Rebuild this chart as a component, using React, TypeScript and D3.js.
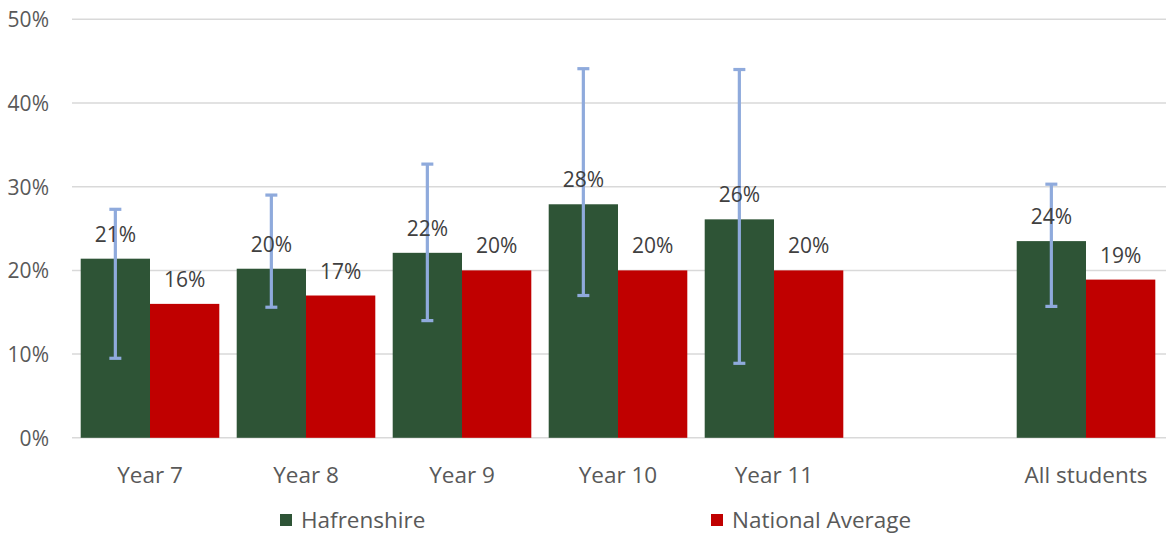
import React from "react";
import * as d3 from "d3";

const categories = ["Year 7", "Year 8", "Year 9", "Year 10", "Year 11", "", "All students"];
const hafrenshire: (number | null)[] = [21.4, 20.2, 22.1, 27.9, 26.1, null, 23.5];
const national: (number | null)[] = [16, 17, 20, 20, 20, null, 18.9];
const errLow: (number | null)[] = [9.5, 15.6, 14.0, 17.0, 8.9, null, 15.7];
const errHigh: (number | null)[] = [27.3, 29.0, 32.7, 44.1, 44.0, null, 30.3];
const yTicks = [0, 10, 20, 30, 40, 50];
const seriesNames = ["Hafrenshire", "National Average"];
const seriesColors = ["#2e5436", "#c00000"];

const W = 1168;
const H = 534;
const FONT = "'Open Sans', sans-serif";

export default function App() {
  const x0 = d3.scaleBand<string>().domain(categories.map((c, i) => i + "|" + c)).range([72, 1164]).padding(0);
  const step = x0.bandwidth();
  const pad = 8.7;
  const x1 = d3.scaleBand<string>().domain(seriesNames).range([pad, step - pad]).padding(0);
  const y = d3.scaleLinear().domain([0, 50]).range([437.8, 19.3]);
  const fmt = (v: number) => `${Math.round(v)}%`;
  const keys = x0.domain();

  return (
    <div style={{ position: "absolute", left: 0, top: 0 }}>
      <svg width={W} height={H} style={{ display: "block", background: "#fff" }} fontFamily={FONT}>
        {yTicks.map((t) => (
          <g key={t}>
            <line x1={72} x2={1166} y1={y(t)} y2={y(t)} stroke="#d9d9d9" strokeWidth={1.5} />
            <text x={49} y={y(t)} textAnchor="end" dominantBaseline="central" fontSize={21} fill="#595959">
              {t}%
            </text>
          </g>
        ))}
        {keys.map((k, i) => {
          const gx = x0(k)!;
          const vals = [hafrenshire[i], national[i]];
          const ex = gx + x1(seriesNames[0])! + x1.bandwidth() / 2;
          return (
            <g key={k}>
              {vals.map((v, s) =>
                v == null ? null : (
                  <rect
                    key={s}
                    x={gx + x1(seriesNames[s])!}
                    y={y(v)}
                    width={x1.bandwidth()}
                    height={y(0) - y(v)}
                    fill={seriesColors[s]}
                  />
                )
              )}
              {errLow[i] != null && errHigh[i] != null && (
                <g stroke="#8faadc" strokeWidth={3.2}>
                  <line x1={ex} x2={ex} y1={y(errLow[i]!)} y2={y(errHigh[i]!)} />
                  {[errLow[i]!, errHigh[i]!].map((e, j) => (
                    <line key={j} x1={ex - 6} x2={ex + 6} y1={y(e)} y2={y(e)} />
                  ))}
                </g>
              )}
              {vals.map((v, s) =>
                v == null ? null : (
                  <text
                    key={"l" + s}
                    x={gx + x1(seriesNames[s])! + x1.bandwidth() / 2}
                    y={y(v) - 25}
                    textAnchor="middle"
                    dominantBaseline="central"
                    fontSize={21}
                    fill="#404040"
                  >
                    {fmt(v)}
                  </text>
                )
              )}
              <text x={gx + step / 2} y={474} textAnchor="middle" dominantBaseline="central" fontSize={22.5} fill="#595959">
                {categories[i]}
              </text>
            </g>
          );
        })}
        {seriesNames.map((n, s) => {
          const lx = [280, 711][s];
          return (
            <g key={n}>
              <rect x={lx} y={514} width={12} height={12} fill={seriesColors[s]} />
              <text x={lx + 21} y={519} dominantBaseline="central" fontSize={22.5} fill="#595959">
                {n}
              </text>
            </g>
          );
        })}
      </svg>
    </div>
  );
}
